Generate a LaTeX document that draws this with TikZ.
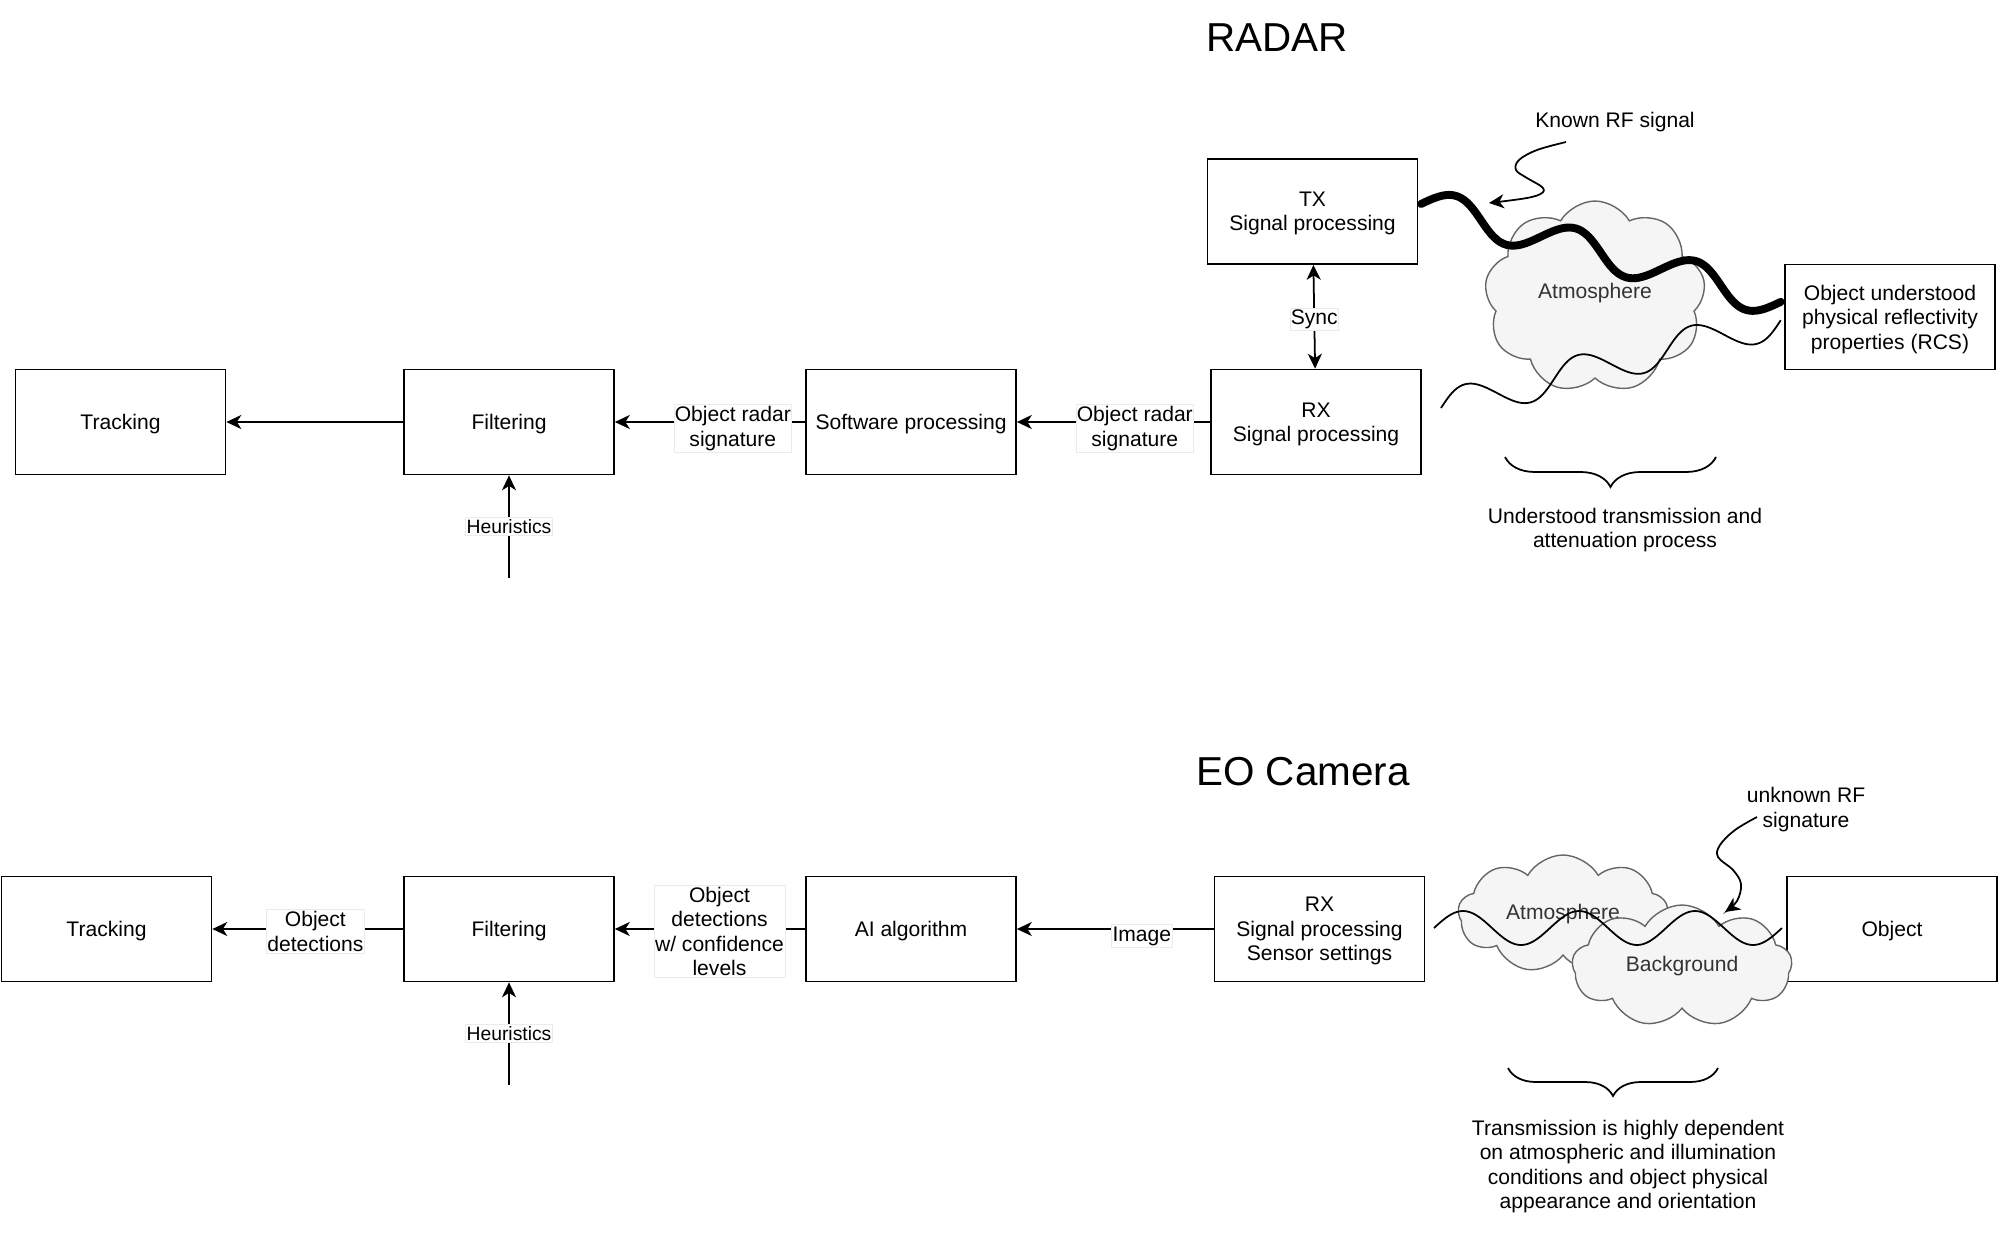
\documentclass[tikz,border=0pt]{standalone}
\usepackage{fontspec}
\setmainfont{Liberation Sans}
\usetikzlibrary{arrows.meta,shapes.symbols,decorations.pathreplacing}
\tikzset{
  >={Stealth[length=8.5pt, width=8pt, inset=2.5pt]},
  blk/.style={draw, line width=1pt, minimum width=4.2cm, minimum height=2.1cm, align=center, font=\fontsize{12}{13.9}\selectfont, text depth=-1pt},
  elbl/.style={fill=white, draw=black!8, line width=0.4pt, inner xsep=0.5pt, inner ysep=1pt, align=center, font=\fontsize{12}{13.9}\selectfont},
  hlbl/.style={elbl, font=\fontsize{11}{13.2}\selectfont},
  flow/.style={->, line width=1pt},
  sky/.style={cloud, cloud puffs=9, cloud puff arc=120, cloud ignores aspect, draw=black!60, fill=black!4, line width=0.8pt, text=black!80, font=\fontsize{12}{13.9}\selectfont},
  ttl/.style={font=\fontsize{23}{28}\selectfont},
  note/.style={align=center, font=\fontsize{12}{13.9}\selectfont},
  rfthin/.style={line width=1pt},
  rfthick/.style={line width=4.5pt, line cap=round},
  brc/.style={decorate, decoration={brace, amplitude=#1}, line width=1pt}
}

\begin{document}
\begin{tikzpicture}[x=0.02cm, y=-0.02cm]
\useasboundingbox (0,0) rectangle (1999,1244);

% radar chain
\node[ttl] (radar) at (1277,37.5) {RADAR};
\node[blk] (tx) at (1312.5,211.5) {TX\\Signal processing};
\node[blk] (rx) at (1316,422) {RX\\Signal processing};
\node[blk] (soft) at (911,422) {Software processing};
\node[blk] (filt) at (509,422) {Filtering};
\node[blk] (track) at (120.5,422) {Tracking};
\node[blk] (obj) at (1890,317) {Object understood\\physical reflectivity\\properties (RCS)};
\node[sky, minimum width=4.42cm, minimum height=3.84cm, text depth=7pt] (atm) at (1595,297) {Atmosphere};
\node[note] (knownrf) at (1615,122.5) {Known RF signal};
\node[note] (undl) at (1625,530) {Understood transmission and\\attenuation process};
\coordinate (heur) at (509,578);
\coordinate (rfstart) at (1566,142);
\coordinate (rftip) at (1489,203);

\draw[flow] (rx) -- node[elbl, pos=0.39, yshift=-0.13cm] {Object radar\\signature} (soft);
\draw[flow] (soft) -- node[elbl, pos=0.38, yshift=-0.13cm] {Object radar\\signature} (filt);
\draw[flow] (filt) -- (track);
\draw[flow] (heur) -- node[hlbl] {Heuristics} (filt);
\draw[flow, <->] (tx) -- node[elbl, yshift=-0.05cm] {Sync} (rx);

% signal waves
\draw[rfthick, shift={(1421,204)}, rotate=-15.2] plot[domain=0:1, samples=121, variable=\u] ({373*\u}, {-17*sin(1080*\u)});
\draw[rfthin, shift={(1441,408)}, rotate=14.5] plot[domain=0:1, samples=121, variable=\u] ({351*\u}, {-17*sin(1080*\u)});
\draw[flow] plot[smooth, tension=0.6] coordinates {(rfstart) (1537,150) (1519,160) (1516,170) (1527,178) (1542,187) (1542,193) (1527,198) (rftip)};
\draw[brc=0.6cm] (1716,457) -- (1505,457);

% EO camera chain
\node[ttl] (eo) at (1303,771.5) {EO Camera};
\node[blk] (rx2) at (1319.5,929) {RX\\Signal processing\\Sensor settings};
\node[blk] (ai) at (911,929) {AI algorithm};
\node[blk] (filt2) at (509,929) {Filtering};
\node[blk] (track2) at (106.5,929) {Tracking};
\node[blk] (obj2) at (1892,929) {Object};
\node[sky, minimum width=4.2cm, minimum height=2.36cm] (atm2) at (1563,914) {Atmosphere};
\node[sky, minimum width=4.4cm, minimum height=2.44cm] (bg) at (1682,966) {Background};
\node[note] (unkrf) at (1806,809.5) {unknown RF\\signature};
\node[note] (transl) at (1628,1166.5) {Transmission is highly dependent\\on atmospheric and illumination\\conditions and object physical\\appearance and orientation};
\coordinate (heur2) at (509,1085);
\coordinate (unkstart) at (1757,817);
\coordinate (unktip) at (1725,912);

\draw[flow] (rx2) -- node[elbl, pos=0.365, yshift=-0.14cm] {Image} (ai);
\draw[flow] (ai) -- node[elbl, pos=0.45, yshift=-0.05cm] {Object\\detections\\w/ confidence\\levels} (filt2);
\draw[flow] (filt2) -- node[elbl, pos=0.46, yshift=-0.05cm] {Object\\detections} (track2);
\draw[flow] (heur2) -- node[hlbl] {Heuristics} (filt2);

\draw[rfthin, shift={(1434,928)}] plot[domain=0:1, samples=121, variable=\u] ({348*\u}, {-17*sin(1080*\u)});
\draw[flow] plot[smooth, tension=0.6] coordinates {(unkstart) (1735,830) (1720,845) (1718,857) (1733,870) (1741,884) (1737,901) (unktip)};
\draw[brc=0.56cm] (1718,1068) -- (1508,1068);
\end{tikzpicture}
\end{document}
